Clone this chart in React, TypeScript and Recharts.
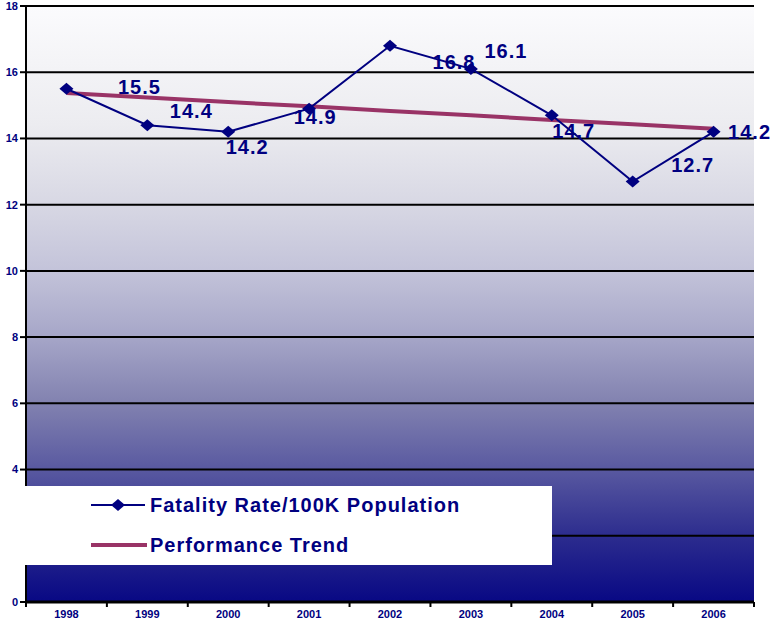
import { LineChart, Line, XAxis, YAxis, CartesianGrid, Legend, LabelList } from "recharts"

const years = ["1998", "1999", "2000", "2001", "2002", "2003", "2004", "2005", "2006"]
const fatalityRate = [15.5, 14.4, 14.2, 14.9, 16.8, 16.1, 14.7, 12.7, 14.2]
const performanceTrend = [15.37, 15.24, 15.1, 14.97, 14.83, 14.7, 14.56, 14.43, 14.29]
const yTicks = [0, 2, 4, 6, 8, 10, 12, 14, 16, 18]

// where each value label sits relative to its point (dx, dy to baseline)
const labelOffsets: [number, number][] = [
  [73, 5], [44, -7], [19, 22], [6, 15], [64, 23], [35, -11], [22, 23], [60, -9], [36, 7],
]

const NAVY = "#000080"
const MAROON = "#993366"
const FONT = "'Liberation Sans', Arial, sans-serif"

const chartData = years.map((y, i) => ({
  x: i,
  year: y,
  rate: fatalityRate[i],
  trend: performanceTrend[i],
}))

// category centres carry the year labels, band edges carry the tick marks
const xTicks = [-0.5, ...years.flatMap((_, i) => [i, i + 0.5])]

function Diamond(props: any) {
  const { cx, cy } = props
  if (cx == null || cy == null) return null
  return (
    <polygon
      points={`${cx},${cy - 6} ${cx + 7},${cy} ${cx},${cy + 6} ${cx - 7},${cy}`}
      fill={NAVY}
    />
  )
}

function YearTick(props: any) {
  const { x, y, payload } = props
  const v = payload.value
  if (!Number.isInteger(v)) {
    return <line x1={x} y1={y - 8} x2={x} y2={y - 3} stroke="#000" strokeWidth={2} />
  }
  return (
    <text x={x} y={y} dy="0.71em" textAnchor="middle" fill={NAVY}
      fontFamily={FONT} fontWeight="bold" fontSize={11}>
      {years[v]}
    </text>
  )
}

function rateLabel(props: any) {
  const { x, y, value, index } = props
  const [dx, dy] = labelOffsets[index] || [0, -8]
  return (
    <text
      x={x + dx}
      y={y + dy}
      textAnchor="middle"
      fill={NAVY}
      fontFamily={FONT}
      fontWeight="bold"
      fontSize={20}
      letterSpacing={1}
    >
      {value}
    </text>
  )
}

const legendText = {
  position: "absolute" as const,
  left: 150,
  color: NAVY,
  fontFamily: FONT,
  fontWeight: "bold",
  fontSize: 20,
  letterSpacing: 1,
  whiteSpace: "nowrap" as const,
  lineHeight: "24px",
}

function LegendBox() {
  return (
    <div style={{ width: "100%", height: "100%", background: "#fff", position: "relative" }}>
      <svg width={150} height={79} style={{ position: "absolute", left: 0, top: 0 }}>
        <line x1={91} y1={19} x2={145} y2={19} stroke={NAVY} strokeWidth={2} />
        <polygon points="118,13 125,19 118,25 111,19" fill={NAVY} />
        <line x1={91} y1={59} x2={147} y2={59} stroke={MAROON} strokeWidth={4} />
      </svg>
      <div style={{ ...legendText, top: 7 }}>Fatality Rate/100K Population</div>
      <div style={{ ...legendText, top: 47 }}>Performance Trend</div>
    </div>
  )
}

export default function App() {
  return (
    <div style={{ position: "absolute", left: 0, top: 0, background: "#fff" }}>
      <LineChart width={773} height={633} data={chartData} margin={{ top: 6, right: 19, left: 0, bottom: 0 }}>
        <defs>
          <linearGradient id="bg" x1="0" y1="0" x2="0" y2="1">
            <stop offset="0" stopColor="#fbfbfd" />
            <stop offset="0.2" stopColor="#ececf0" />
            <stop offset="0.33" stopColor="#d8d8e4" />
            <stop offset="0.44" stopColor="#c4c4da" />
            <stop offset="0.555" stopColor="#a6a6c8" />
            <stop offset="0.665" stopColor="#8282b0" />
            <stop offset="0.78" stopColor="#5858a0" />
            <stop offset="0.89" stopColor="#2c2c8e" />
            <stop offset="1" stopColor="#080884" />
          </linearGradient>
        </defs>
        <CartesianGrid vertical={false} stroke="#000" strokeWidth={2} fill="url(#bg)" fillOpacity={1} />
        <XAxis
          dataKey="x"
          type="number"
          domain={[-0.5, years.length - 0.5]}
          ticks={xTicks}
          tick={<YearTick />}
          tickLine={false}
          tickSize={6}
          axisLine={{ stroke: "#000", strokeWidth: 3 }}
          height={31}
          interval={0}
        />
        <YAxis
          domain={[0, 18]}
          ticks={yTicks}
          width={26}
          tickSize={6}
          axisLine={{ stroke: "#000", strokeWidth: 2 }}
          tickLine={{ stroke: "#000", strokeWidth: 2 }}
          tick={{ fill: NAVY, fontSize: 11, fontWeight: "bold", fontFamily: FONT }}
          interval={0}
        />
        <Legend
          layout="horizontal"
          verticalAlign="middle"
          align="center"
          content={() => <LegendBox />}
          wrapperStyle={{ position: "absolute", left: 0, top: 486, width: 552, height: 79 }}
        />
        <Line
          dataKey="trend"
          type="linear"
          stroke={MAROON}
          strokeWidth={4}
          dot={false}
          activeDot={false}
          isAnimationActive={false}
        />
        <Line
          dataKey="rate"
          type="linear"
          stroke={NAVY}
          strokeWidth={2}
          dot={<Diamond />}
          activeDot={false}
          isAnimationActive={false}
        >
          <LabelList dataKey="rate" content={rateLabel} />
        </Line>
      </LineChart>
    </div>
  )
}
